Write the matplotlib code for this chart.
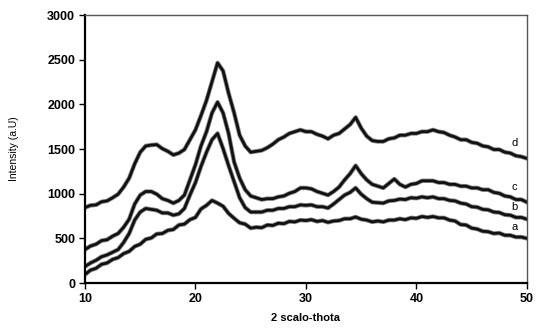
import numpy as np
import matplotlib.pyplot as plt

plt.rcParams['font.family'] = ['Liberation Sans', 'DejaVu Sans']

# 2-theta grid, 0.5 degree steps from 10 to 50
two_theta = np.arange(10, 50.01, 0.5)

# intensities (a.U)
curve_a = [95, 145, 165, 210, 225, 265, 285, 330, 355, 410, 435, 490, 505, 550, 555, 590, 600, 650, 660, 710,
           735, 830, 870, 925, 895, 860, 780, 725, 675, 660, 615, 625, 620, 650, 645, 670, 665, 690, 685, 705,
           700, 710, 690, 700, 680, 695, 700, 720, 720, 740, 715, 705, 685, 695, 685, 705, 705, 720, 710, 730,
           725, 745, 735, 745, 730, 730, 705, 695, 655, 650, 615, 605, 580, 575, 555, 560, 535, 535, 515, 515, 500]
curve_b = [185, 225, 255, 295, 315, 345, 375, 455, 555, 705, 795, 835, 825, 815, 785, 785, 760, 775, 835, 985,
           1125, 1305, 1465, 1605, 1675, 1505, 1315, 1135, 955, 845, 795, 795, 795, 815, 815, 835, 835, 855, 855, 875,
           870, 875, 855, 855, 840, 885, 935, 985, 1015, 1065, 995, 945, 905, 900, 895, 920, 925, 940, 935, 955,
           950, 965, 955, 965, 945, 945, 925, 920, 895, 885, 855, 850, 825, 820, 795, 790, 765, 760, 735, 735, 715]
curve_c = [375, 415, 435, 475, 485, 525, 555, 625, 715, 885, 985, 1025, 1025, 995, 945, 925, 895, 925, 985, 1155,
           1325, 1535, 1695, 1905, 2025, 1905, 1675, 1355, 1175, 1045, 975, 955, 935, 945, 945, 965, 975, 1005, 1025, 1065,
           1065, 1055, 1025, 1005, 985, 1025, 1075, 1155, 1225, 1315, 1225, 1155, 1105, 1085, 1065, 1115, 1165, 1105, 1075, 1105,
           1115, 1145, 1145, 1145, 1125, 1125, 1105, 1105, 1085, 1085, 1065, 1065, 1045, 1045, 1015, 1005, 975, 965, 935, 935, 905]
curve_d = [845, 870, 875, 910, 920, 955, 995, 1075, 1175, 1335, 1465, 1535, 1545, 1550, 1505, 1475, 1435, 1455, 1495, 1605,
           1715, 1875, 2045, 2255, 2465, 2375, 2125, 1905, 1655, 1535, 1465, 1475, 1485, 1515, 1555, 1605, 1635, 1675, 1695, 1715,
           1695, 1695, 1665, 1645, 1615, 1655, 1675, 1725, 1775, 1855, 1735, 1645, 1595, 1585, 1585, 1615, 1625, 1655, 1655, 1675,
           1675, 1695, 1695, 1715, 1695, 1685, 1655, 1635, 1605, 1605, 1575, 1565, 1535, 1525, 1495, 1495, 1465, 1455, 1425, 1415, 1395]

series = [('a', curve_a, 627), ('b', curve_b, 850), ('c', curve_c, 1074), ('d', curve_d, 1567)]

fig = plt.figure(figsize=(5.5, 3.35), dpi=100)
ax = fig.add_axes([0.1545, 0.155, 0.8035, 0.80])

for name, vals, label_y in series:
    # soft grey halo under the black trace, like the noisy scan band
    ax.plot(two_theta, vals, color='#888888', linewidth=3.2, solid_joinstyle='round')
    ax.plot(two_theta, vals, color='#111111', linewidth=2.0, solid_joinstyle='round')
    ax.text(48.9, label_y, name, fontsize=8, ha='center', va='center')

ax.set_xlim(10, 50)
ax.set_ylim(0, 3000)
ax.set_xticks([10, 20, 30, 40, 50])
ax.set_yticks(np.arange(0, 3001, 500))

for lbl in ax.get_xticklabels() + ax.get_yticklabels():
    lbl.set_fontweight('bold')
    lbl.set_fontsize(9)

ax.tick_params(direction='out', length=4, width=1, pad=3)
ax.tick_params(axis='x', pad=3)

ax.spines['left'].set_linewidth(1.6)
ax.spines['bottom'].set_linewidth(1.6)
ax.spines['top'].set_color('#555555')
ax.spines['right'].set_color('#555555')
ax.spines['top'].set_linewidth(1.0)
ax.spines['right'].set_linewidth(1.0)

ax.set_xlabel('2 scalo-thota', fontsize=8, fontweight='bold', labelpad=6)
ax.set_ylabel('Intensity (a.U)', fontsize=7.5, labelpad=20)

fig.savefig('out.png', dpi=100)
